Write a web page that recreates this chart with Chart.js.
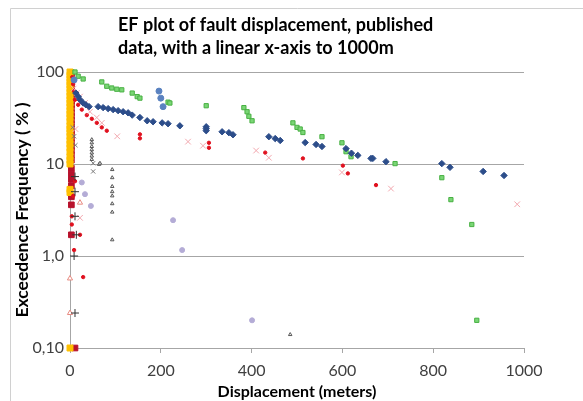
<!DOCTYPE html>
<html>
<head>
<meta charset="utf-8">
<script src="https://cdn.jsdelivr.net/npm/chart.js@4.4.1/dist/chart.umd.min.js"></script>
<style>
  body { margin: 0; background: #fff; }
</style>
</head>
<body>
<canvas id="efChart" width="583" height="401"></canvas>
<script>
// exceedence frequency (%) against fault displacement (m), one pair of arrays per data set
var titleLines = ["EF plot of fault displacement, published", "data, with a linear x-axis to 1000m"];
var xTicks = [0, 200, 400, 600, 800, 1000];
var yTicks = [0.1, 1, 10, 100];
var yTickLabels = ["0,10", "1,0", "10", "100"];

var navyX = [13, 18, 22, 29, 35, 42, 62, 73, 84, 95, 106, 117, 128, 137, 154, 170, 183, 203, 216, 242, 300, 300, 300, 335, 350, 359, 438, 452, 463, 518, 542, 555, 608, 620, 634, 663, 667, 696, 819, 837, 910, 956];
var navyY = [59, 54, 50, 46, 44, 42, 42, 41, 40, 39, 38, 37, 36, 34, 32, 29.5, 28.8, 28, 27.4, 26, 25.4, 24.2, 23, 22.4, 21.9, 20.8, 19.8, 18.9, 18, 17.1, 16.3, 15.5, 14.7, 13.1, 12.4, 11.5, 11.5, 10.6, 10.1, 9.2, 8.3, 7.5];

var blueX = [9, 196, 200, 205];
var blueY = [82, 62, 52, 42];

var greenX = [11, 18, 29, 70, 81, 92, 103, 114, 137, 148, 154, 216, 220, 300, 383, 390, 394, 401, 491, 500, 507, 513, 555, 599, 608, 619, 716, 819, 839, 885, 896];
var greenY = [100, 90, 84, 78, 70, 67, 65, 64, 59, 54, 52, 47, 46, 43, 41, 37, 33, 29.5, 28, 25, 24, 22, 19.8, 17, 13.6, 12, 10.1, 7.1, 4.1, 2.2, 0.2];

var redX = [5, 7, 9, 11, 18, 26, 37, 48, 59, 70, 81, 154, 154, 306, 306, 430, 513, 601, 612, 674, 11, 7, 4, 4, 22, 9, 29];
var redY = [88, 74, 62, 50, 44, 39, 34, 31, 28, 25, 23, 21, 19, 17, 15, 13.3, 11.5, 9.6, 7.9, 5.9, 6.5, 4.5, 2.7, 2.2, 1.7, 1.16, 0.59];

var pinkX = [8, 15, 22, 33, 44, 59, 70, 104, 260, 293, 410, 438, 599, 707, 985, 12, 22];
var pinkY = [66, 59, 54, 46, 37, 32, 28, 20, 17.5, 15.8, 14, 11.7, 8.1, 5.4, 3.65, 24, 2.6];

var greyX = [48, 48, 48, 48, 48, 48, 48, 93, 93, 93, 93, 93, 93, 93, 93, 64, 66, 485];
var greyY = [18.4, 17, 15.5, 14.3, 13.2, 12.2, 11.2, 8.7, 7.1, 5.7, 5.0, 4.5, 3.7, 3.0, 1.5, 9.9, 10.2, 0.14];

var crossX = [51, 51, 6, 9, 12];
var crossY = [10.2, 8.3, 25, 20, 16];

var plusX = [11, 11, 11, 11, 9, 14];
var plusY = [7.3, 5.0, 2.7, 0.24, 1.0, 1.7];

var purpleX = [26, 33, 46, 227, 247, 401];
var purpleY = [6.3, 4.7, 3.5, 2.45, 1.16, 0.2];

var salmonX = [22, 0, 0];
var salmonY = [3.8, 0.24, 0.57];

var yellowX = [0, 0, 0, 0, 0, 0, 0, 0, 0, 0, 0, 0, 0, 0, 0, 0, 0, 0, 0, 0, 0, 0, 0, 0, 0, 0, 0, 0, 0];
var yellowY = [100, 92, 85, 78, 72, 66, 60, 55, 50, 46, 42, 38, 35, 32, 29, 26, 24, 22, 20, 18, 16.5, 15, 13.5, 12, 11, 10, 5.3, 4.9, 0.1];

var darkRedX = [3, 3, 3, 3, 3, 3, 3, 3, 3, 3, 3, 3, 3, 3, 3, 3, 3, 3, 3, 3, 3, 3, 3, 3, 3, 3, 3, 3, 3, 3, 11];
var darkRedY = [98, 88, 80, 70, 63, 57, 52, 48, 44, 40, 36, 33, 30, 27, 25, 23, 21, 19, 17, 15.5, 14, 12.5, 11, 9, 7.8, 6.8, 5.8, 4.4, 3.6, 1.7, 0.1];

function toPoints(xs, ys) {
  var pts = [];
  for (var i = 0; i < xs.length; i++) {
    pts.push({ x: xs[i], y: ys[i] });
  }
  return pts;
}

function series(label, xs, ys, style, radius, fill, stroke) {
  return {
    label: label,
    data: toPoints(xs, ys),
    pointStyle: style,
    pointRadius: radius,
    backgroundColor: fill,
    borderColor: stroke,
    borderWidth: 1,
    clip: false
  };
}

// chart title and outer frame
var titlePlugin = {
  id: "efTitle",
  beforeDraw: function(chart) {
    var ctx = chart.ctx;
    ctx.save();
    ctx.strokeStyle = "#d0d0d0";
    ctx.lineWidth = 1;
    ctx.beginPath();
    ctx.moveTo(10.5, 600);
    ctx.lineTo(10.5, 8.5);
    ctx.lineTo(700, 8.5);
    ctx.stroke();
    ctx.restore();
  },
  afterDraw: function(chart) {
    var ctx = chart.ctx;
    ctx.save();
    ctx.font = "bold 18px Lato";
    ctx.fillStyle = "#000";
    ctx.textAlign = "left";
    ctx.textBaseline = "middle";
    ctx.fillText(titleLines[0], 118, 25);
    ctx.fillText(titleLines[1], 118, 48);
    ctx.restore();
  }
};

var datasets = [
  series("Navy", navyX, navyY, "rectRot", 3.2, "#2c4d8a", "#2c4d8a"),
  series("Blue", blueX, blueY, "circle", 3, "#5a82c0", "#5a82c0"),
  series("Green", greenX, greenY, "rect", 3, "#7ad675", "#48b043"),
  series("Grey", greyX, greyY, "triangle", 2, "#ffffff", "#555555"),
  series("Cross", crossX, crossY, "crossRot", 3, "#777777", "#777777"),
  series("Plus", plusX, plusY, "cross", 4, "#333333", "#333333"),
  series("Purple", purpleX, purpleY, "circle", 2.5, "#b4acd6", "#b4acd6"),
  series("Pink", pinkX, pinkY, "crossRot", 4, "#f2a7ae", "#f2a7ae"),
  series("Salmon", salmonX, salmonY, "triangle", 3, "#ffffff", "#e88a80"),
  series("Red", redX, redY, "circle", 1.7, "#e0101e", "#e0101e"),
  series("Yellow", yellowX, yellowY, "rect", 4.2, "#ffc000", "#ffc000"),
  series("Dark red", darkRedX, darkRedY, "rect", 4, "#b8122c", "#b8122c")
];

var ctx = document.getElementById("efChart");
var chart = new Chart(ctx, {
  type: "scatter",
  data: { datasets: datasets },
  plugins: [titlePlugin],
  options: {
    responsive: false,
    animation: false,
    layout: { padding: { top: 72, right: 59, left: 0, bottom: 0 } },
    plugins: {
      legend: { display: false },
      tooltip: { enabled: false }
    },
    scales: {
      x: {
        type: "linear",
        min: 0,
        max: 1000,
        afterFit: function(scale) { scale.height = 53; },
        afterBuildTicks: function(scale) {
          scale.ticks = xTicks.map(function(v) { return { value: v }; });
        },
        grid: {
          drawOnChartArea: false,
          drawTicks: true,
          tickLength: 5,
          color: "#a6a6a6"
        },
        border: { color: "#a6a6a6" },
        ticks: {
          padding: 8,
          color: "#404040",
          font: { family: "Lato", size: 16 },
          callback: function(value) { return String(value); }
        },
        title: {
          display: true,
          text: "Displacement (meters)",
          color: "#000",
          padding: { top: 0, bottom: 0 },
          font: { family: "Lato", size: 16, weight: "bold" }
        }
      },
      y: {
        type: "logarithmic",
        min: 0.1,
        max: 100,
        afterFit: function(scale) { scale.width = 70; },
        afterBuildTicks: function(scale) {
          scale.ticks = yTicks.map(function(v) { return { value: v }; });
        },
        grid: {
          drawTicks: false,
          color: "#a6a6a6"
        },
        border: { color: "#a6a6a6" },
        ticks: {
          padding: 6,
          color: "#404040",
          font: { family: "Lato", size: 16 },
          callback: function(value) {
            var i = yTicks.indexOf(value);
            return i >= 0 ? yTickLabels[i] : "";
          }
        },
        title: {
          display: true,
          text: "Exceedence Frequency ( % )",
          color: "#000",
          padding: { top: 12, bottom: 0 },
          font: { family: "Lato", size: 17.5, weight: "bold" }
        }
      }
    }
  }
});
</script>
</body>
</html>
